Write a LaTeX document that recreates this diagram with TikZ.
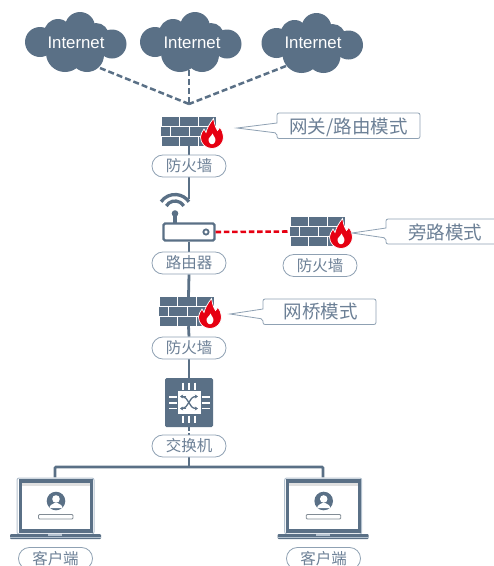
\documentclass[tikz,border=0pt]{standalone}
\usepackage{fontspec}
\usetikzlibrary{backgrounds,arrows.meta}
\setmainfont{Liberation Sans}
\newfontfamily\cjkfont{Noto Sans CJK SC}
\definecolor{slate}{HTML}{5A7086}
\definecolor{lightslate}{HTML}{B4C2CF}
\definecolor{edgeslate}{HTML}{8FA1B3}
\definecolor{textslate}{HTML}{6C8096}
\definecolor{fwred}{HTML}{E60012}
\tikzset{
  x=1pt,y=-1pt,
  wire/.style={draw=slate,line width=2.8pt},
  dashwire/.style={draw=slate,line width=2.5pt,dash pattern=on 6pt off 3pt},
  redwire/.style={draw=fwred,line width=2.6pt,dash pattern=on 5.5pt off 2.8pt},
  pilltag/.style={draw=edgeslate,line width=.8pt,fill=white,rounded corners=10.9pt,minimum width=74pt,minimum height=22pt,inner sep=0pt,text=textslate,font=\cjkfont\fontsize{15.5}{16}\selectfont},
  calloutbox/.style={draw=edgeslate,line width=.8pt,fill=white,rounded corners=2pt},
  callouttext/.style={inner sep=0pt,text=textslate,font=\cjkfont\fontsize{18.5}{20}\selectfont},
  holder/.style={inner sep=0pt,minimum width=#1},
  cloudtext/.style={inner sep=0pt,minimum width=102pt,minimum height=60pt,text=white,font=\fontsize{16.8}{18}\selectfont},
  brick/.style={fill=slate},
  firewall/.pic={
    \foreach \yy in {0,20}{
      \fill[brick] (1,\yy) rectangle (18,\yy+9.3);
      \fill[brick] (19,\yy) rectangle (36.5,\yy+9.3);
      \fill[brick] (38,\yy) rectangle (55,\yy+9.3);
    }
    \fill[brick] (0,10) rectangle (8.5,19.3);
    \fill[brick] (10,10) rectangle (27.5,19.3);
    \fill[brick] (29,10) rectangle (46.5,19.3);
    \fill[brick] (48,10) rectangle (55,19.3);
    \begin{scope}[shift={(51,20)}]
      \path[fill=fwred,draw=white,line width=.7pt]
        (1.5,-18.5) .. controls (2.5,-14) and (3,-10) .. (5.5,-6.5)
        .. controls (6.5,-7.5) and (7.5,-8.5) .. (7.5,-10)
        .. controls (10,-7) and (11.5,-3.5) .. (11.5,0)
        .. controls (11.5,6.5) and (6.5,11.5) .. (0,11.5)
        .. controls (-6.5,11.5) and (-11.5,6.5) .. (-11.5,0)
        .. controls (-11.5,-3) and (-9.5,-5.5) .. (-8,-8)
        .. controls (-7.5,-6.5) and (-7,-5.5) .. (-6,-4.5)
        .. controls (-5,-9) and (-2,-14) .. (1.5,-18.5) -- cycle;
      \fill[white]
        (0.5,-3.5) .. controls (1,-1.5) and (2,-0.5) .. (3,1)
        .. controls (4.2,3) and (3,7) .. (0,7.3)
        .. controls (-3,7) and (-4.2,3) .. (-3,1)
        .. controls (-1.5,-0.5) and (-0.2,-1.5) .. (0.5,-3.5) -- cycle;
    \end{scope}
  },
  cloudshape/.pic={
    \fill[slate] (-36,0) circle[radius=15];
    \fill[slate] (-18,-9) circle[radius=14];
    \fill[slate] (4,-15) circle[radius=15];
    \fill[slate] (20,-6) circle[radius=13];
    \fill[slate] (36,2) circle[radius=14.5];
    \fill[slate] (-11,11) circle[radius=19];
    \fill[slate] (11,13) circle[radius=17];
    \fill[slate] (-30,-8) rectangle (32,12);
  },
  laptop/.pic={
    \fill[white,draw=lightslate,line width=1pt,rounded corners=2pt] (7,2) rectangle (84,58);
    \fill[slate] (8.5,2.5) rectangle (83,57);
    \fill[white] (11.5,7) rectangle (80,53);
    \fill[black!12] (11.5,7) rectangle (80,10);
    \fill[slate,rounded corners=1pt] (0,58) rectangle (91,63);
    \fill[lightslate] (38,58) rectangle (52,59.5);
    \fill[lightslate] (0,60.5) rectangle (91,61);
    \fill[slate] (46,25) circle[radius=9.3];
    \fill[white] (46,23) circle[radius=3.8];
    \fill[white] (39.5,32) .. controls (39.5,28.5) and (43,28.5) .. (44.5,27) -- (47.5,27)
      .. controls (49,28.5) and (52.5,28.5) .. (52.5,32) -- cycle;
    \path[fill=white,draw=black!28!lightslate,line width=.9pt,rounded corners=1pt] (28.5,38.5) rectangle (63,43);
  },
  pinmark/.style={draw=white,line width=1.5pt},
  shufflemark/.style={draw=slate,line width=1.3pt,-{Stealth[length=3.2pt,width=4pt]}},
}
\begin{document}
\begin{tikzpicture}
\path[use as bounding box,clip] (0,0) rectangle (494,566);

% clouds
\pic at (76,42) {cloudshape};
\pic at (191,42) {cloudshape};
\pic at (312.5,43) {cloudshape};
\node[cloudtext] (cloudA) at (76,42.5) {Internet};
\node[cloudtext] (cloudB) at (192,42.5) {Internet};
\node[cloudtext] (cloudC) at (313,43) {Internet};
\coordinate (cloudAout) at (100,68);
\coordinate (cloudBout) at (189,70);
\coordinate (cloudCout) at (286,66);
\coordinate (uplink) at (189,104);

% firewalls
\pic at (161,117) {firewall};
\pic at (290,217) {firewall};
\pic at (159,297) {firewall};
\node[holder=55pt,minimum height=29pt] (wallA) at (189,131.5) {};
\node[holder=55pt,minimum height=29pt] (wallB) at (317.5,231.5) {};
\node[holder=55pt,minimum height=29pt] (wallC) at (188.5,311.5) {};

% router
\node[draw=slate,line width=2.2pt,fill=white,rounded corners=1.5pt,minimum width=51pt,minimum height=17pt,inner sep=0pt] (router) at (189,232) {};
\draw[slate,line width=1.8pt] (206,232) circle[radius=2.6];
\coordinate (wifitop) at (189,198.5);
\draw[slate,line width=3.3pt] (175,211.5) ++(145:17pt) arc[start angle=145,end angle=35,radius=17pt];
\draw[slate,line width=3.3pt] (175,211) ++(150:10pt) arc[start angle=150,end angle=30,radius=10pt];
\fill[slate] (175,213.5) circle[radius=3.3];
\draw[slate,line width=3.3pt] (175,213) -- (175,223);

% switch
\node[fill=slate,rounded corners=1.5pt,minimum width=48pt,minimum height=49pt,inner sep=0pt] (switchbox) at (189,402.5) {};
\fill[white] (178,391) rectangle (200.5,414);
\foreach \px in {183,189,195}{
  \draw[pinmark] (\px,382.5) -- (\px,389.5);
  \draw[pinmark] (\px,415.5) -- (\px,423);
}
\foreach \py in {397,403,408.5}{
  \draw[pinmark] (169,\py) -- (177,\py);
  \draw[pinmark] (201.5,\py) -- (210,\py);
}
\draw[shufflemark] (181,396.5) .. controls (190,396.5) and (188,408.5) .. (198,408.5);
\draw[shufflemark] (181,408.5) .. controls (190,408.5) and (188,396.5) .. (198,396.5);
\draw[shufflemark] (186,396.5) -- (180,396.5);
\draw[shufflemark] (186,408.5) -- (180,408.5);

% laptops
\pic at (10,476) {laptop};
\pic at (277.7,476) {laptop};
\node[holder=91pt,minimum height=62pt] (laptopA) at (55,508.5) {};
\node[holder=91pt,minimum height=62pt] (laptopB) at (323,508.5) {};

% tags
\node[pilltag] (tagA) at (189,166) {防火墙};
\node[pilltag] (tagRouter) at (189,263) {路由器};
\node[pilltag] (tagB) at (320,265.5) {防火墙};
\node[pilltag] (tagC) at (189,348) {防火墙};
\node[pilltag] (tagSwitch) at (189,446) {交换机};
\node[pilltag] (tagLapA) at (55.5,558.5) {客户端};
\node[pilltag] (tagLapB) at (323.5,558.5) {客户端};

% callouts
\path[calloutbox] (277,113) -- (420,113) -- (420,138.5) -- (277,138.5) -- (277,133) [sharp corners] -- (237,128) -- (277,123) [rounded corners=2pt] -- cycle;
\node[callouttext] (noteA) at (348.5,127) {网关/路由模式};
\path[calloutbox] (386,219) -- (500,219) -- (500,244) -- (386,244) -- (386,238) [sharp corners] -- (352,233) -- (386,228) [rounded corners=2pt] -- cycle;
\node[callouttext] (noteB) at (445,232) {旁路模式};
\path[calloutbox] (263,299) -- (376,299) -- (376,324.5) -- (263,324.5) -- (263,319) [sharp corners] -- (230,314) -- (263,309) [rounded corners=2pt] -- cycle;
\node[callouttext] (noteC) at (320.5,312) {网桥模式};

% connectors
\begin{scope}[on background layer]
  \draw[dashwire] (cloudAout) -- (uplink);
  \draw[dashwire] (cloudBout) -- (uplink);
  \draw[dashwire] (cloudCout) -- (uplink);
  \draw[wire] (wallA.south) -- (tagA.north);
  \draw[wire] (tagA.south) -- (wifitop);
  \draw[wire] (router.south) -- (tagRouter.north);
  \draw[wire] (tagRouter.south) -- (wallC.north);
  \draw[wire] (wallC.south) -- (tagC.north);
  \draw[wire] (tagC.south) -- (switchbox.north);
  \draw[wire,dash pattern=on 3.5pt off 2.5pt on 2.5pt] (switchbox.south) -- (tagSwitch.north);
  \coordinate (busmid) at (189,467);
  \draw[wire] (tagSwitch.south) -- (busmid);
  \draw[wire,rounded corners=1pt] (laptopA.north) |- (busmid) -| (laptopB.north);
\end{scope}
\draw[redwire] (router.east) -- (wallB.west);
\end{tikzpicture}
\end{document}
